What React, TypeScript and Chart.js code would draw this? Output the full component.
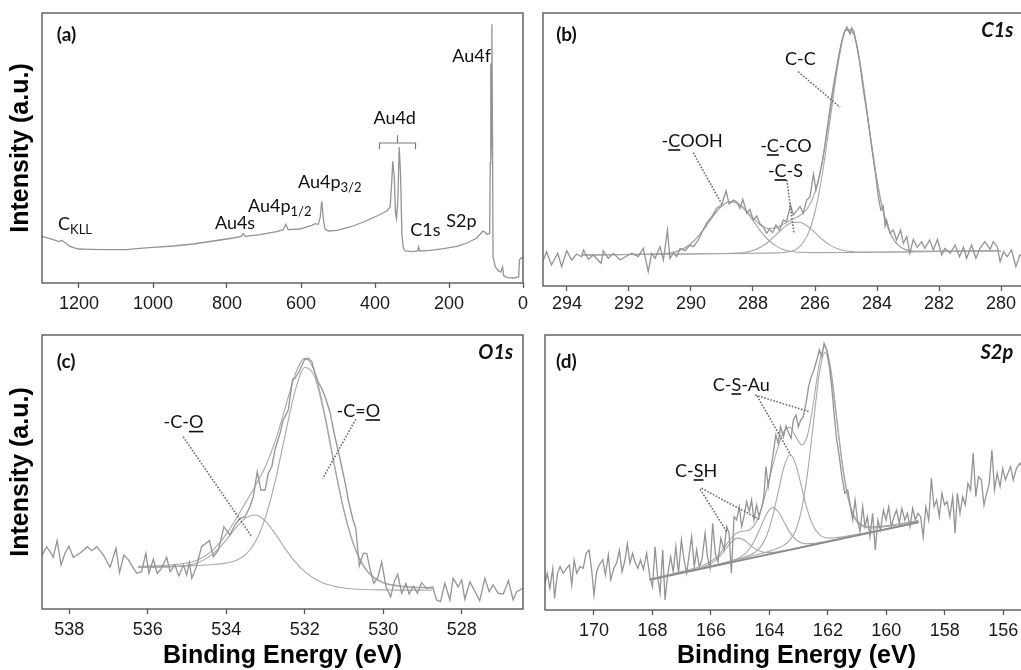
import React, { useEffect, useRef } from "react";
import { Chart, registerables } from "chart.js";

Chart.register(...registerables);

type Pt = [number, number];

// ---------------- Panel (a) survey ----------------
const surveyTicks = [1200, 1000, 800, 600, 400, 200, 0];
const surveyRaw: Pt[] = [
  [1300, 46.7], [1288, 45.4], [1270, 43.4], [1254, 41.4], [1247, 42.7], [1239, 40.7], [1225, 36.7], [1202, 34.0],
  [1171, 33.7], [1126, 33.4], [1072, 33.4], [1036, 34.7], [1000, 35.7], [945, 37.0], [891, 39.0], [837, 42.0],
  [783, 45.0], [761, 46.7], [756, 49.4], [751, 46.7], [711, 48.4], [666, 51.4], [648, 53.4], [641, 58.7],
  [635, 53.4], [603, 54.0], [571, 57.7], [562, 59.4], [553, 58.7], [548, 66], [544, 81.7], [539, 62.7],
  [535, 54], [526, 52], [503, 52.7], [467, 56], [431, 61], [395, 67], [368, 72], [359, 76], [354.5, 102.7],
  [352, 121.7], [348, 106], [344.5, 69.4], [341.8, 64.4], [338.2, 82.7], [334.6, 136], [331, 109.4],
  [327.4, 49.4], [323.8, 35.4], [318.4, 32], [296, 31.4], [285, 32], [282.3, 36], [279.5, 32], [250.7, 32.7],
  [214.6, 34.4], [178.6, 36.7], [151.5, 40], [124.4, 45], [111, 51], [106.4, 52], [97.4, 48.7], [90.1, 49.4],
  [88.5, 120], [87.7, 219.4], [86.5, 120], [85, 150], [84, 258.7], [82.5, 150], [81, 26], [74.8, 16],
  [65.9, 12], [60, 11], [55.1, 16], [52.4, 7.4], [43.2, 5.4], [25.4, 5.0], [11.8, 6.0], [9.3, 23.4],
  [2.8, 25.4], [0, 25],
];

// ---------------- Panel (b) C1s ----------------
const c1sTicks = [294, 292, 290, 288, 286, 284, 282, 280];
const c1sRaw: Pt[] = [
  [294.76, 26], [294.66, 34.3], [294.5, 21], [294.3, 32.7], [294.17, 19.3], [294.01, 35.3], [293.85, 26],
  [293.69, 32], [293.53, 29.3], [293.47, 36], [293.31, 26.7], [293.15, 31], [292.9, 22.7], [292.83, 35.3],
  [292.67, 27.7], [292.5, 32.7], [292.29, 26], [292.07, 30], [291.91, 32.7], [291.7, 29.3], [291.54, 37.7],
  [291.38, 14.3], [291.27, 32.7], [291.16, 27.7], [291.0, 39.3], [290.89, 26], [290.76, 56], [290.68, 27.7],
  [290.57, 32.7], [290.46, 29.3], [290.35, 37.7], [290.19, 35.3], [290.03, 41], [289.92, 39.3], [289.76, 46],
  [289.66, 52.7], [289.49, 63.3], [289.33, 69.3], [289.17, 77.7], [289.01, 81], [288.87, 95.3], [288.77, 82],
  [288.63, 86], [288.53, 84.3], [288.42, 77.7], [288.33, 86.7], [288.2, 72.7], [288.1, 76.7], [287.99, 66],
  [287.88, 70], [287.77, 62], [287.67, 59.3], [287.56, 52.7], [287.47, 56.7], [287.37, 53.3], [287.26, 61],
  [287.15, 56], [287.02, 66], [286.92, 64.3], [286.79, 81], [286.7, 71], [286.59, 75.3], [286.48, 79.3],
  [286.38, 72.7], [286.27, 86], [286.16, 89.3], [286.05, 112], [285.97, 96], [285.87, 108], [285.75, 126],
  [285.65, 148], [285.55, 170], [285.45, 192], [285.35, 210], [285.25, 228], [285.15, 243], [285.05, 254],
  [284.97, 259], [284.92, 255], [284.87, 252], [284.82, 258], [284.75, 255], [284.65, 240], [284.55, 222],
  [284.45, 198], [284.35, 178], [284.25, 157], [284.15, 134], [284.05, 112], [283.97, 92], [283.88, 76],
  [283.8, 80], [283.74, 60], [283.69, 66], [283.58, 52.7], [283.47, 56], [283.37, 46], [283.24, 56],
  [283.15, 42.7], [283.04, 49.3], [282.94, 32.7], [282.83, 46.7], [282.7, 38.7], [282.56, 44.3], [282.46, 37.7],
  [282.3, 46], [282.18, 36], [282.05, 46.7], [281.91, 31], [281.81, 37.7], [281.64, 32.7], [281.48, 41],
  [281.34, 29.3], [281.21, 38.7], [281.11, 27.7], [280.95, 41], [280.81, 27.7], [280.68, 37.7], [280.52, 44.3],
  [280.35, 36.7], [280.25, 44.3], [280.12, 39.3], [280.03, 24.3], [279.92, 34.3], [279.8, 29.3], [279.66, 36],
  [279.52, 19.3], [279.39, 31], [279.25, 28],
];
const c1sEnvelope: Pt[] = [
  [293.5, 31.0], [291.5, 31.7], [291.25, 31.8], [291, 32.1], [290.75, 32.8], [290.5, 34.3], [290.25, 37.2],
  [290, 42.4], [289.75, 50.2], [289.5, 60.4], [289.25, 71.3], [289, 80.2], [288.75, 84.5], [288.5, 83.0],
  [288.25, 76.6], [288, 68.0], [287.75, 60.8], [287.5, 57.4], [287.25, 58.4], [287, 62.3], [286.75, 66.5],
  [286.5, 70.3], [286.25, 77.3], [286, 93.9], [285.75, 127.2], [285.5, 175.8], [285.25, 226.1], [285, 256.9],
  [284.75, 252.3], [284.5, 213.5], [284.25, 157.8], [284, 105.6], [283.75, 68.7], [283.5, 48.2], [283.25, 39.1],
  [283, 35.7], [282.75, 34.7], [282.5, 34.6], [280, 35.3],
];
const c1sCOOH: Pt[] = [
  [293.5, 31.0], [291.5, 31.7], [291.25, 31.8], [291, 32.1], [290.75, 32.8], [290.5, 34.3], [290.25, 37.2],
  [290, 42.4], [289.75, 50.2], [289.5, 60.4], [289.25, 71.3], [289, 80.1], [288.75, 84.4], [288.5, 82.6],
  [288.25, 75.5], [288, 65.3], [287.75, 54.7], [287.5, 46.0], [287.25, 39.9], [287, 36.3], [286.75, 34.5],
  [286.5, 33.7], [286.25, 33.5], [286, 33.4], [280, 35.3],
];
const c1sCCO: Pt[] = [
  [293.5, 31.0], [289, 32.5], [288.75, 32.6], [288.5, 33.0], [288.25, 33.8], [288, 35.5], [287.75, 38.9],
  [287.5, 44.3], [287.25, 51.4], [287, 58.6], [286.75, 63.4], [286.5, 63.8], [286.25, 60.0], [286, 53.3],
  [285.75, 46.2], [285.5, 40.6], [285.25, 36.9], [285, 35.0], [284.75, 34.3], [284.5, 34.0], [284.25, 34.0],
  [280, 35.3],
];
const c1sCC: Pt[] = [
  [293.5, 31.0], [287.5, 32.9], [287.25, 33.1], [287, 33.5], [286.75, 34.9], [286.5, 39.2], [286.25, 50.4],
  [286, 74.0], [285.75, 114.5], [285.5, 168.8], [285.25, 222.8], [285, 255.6], [284.75, 251.8], [284.5, 213.4],
  [284.25, 157.8], [284, 105.6], [283.75, 68.7], [283.5, 48.2], [283.25, 39.1], [283, 35.7], [282.75, 34.7],
  [282.5, 34.6], [280, 35.3],
];

// ---------------- Panel (c) O1s ----------------
const o1sTicks = [538, 536, 534, 532, 530, 528];
const o1sRaw: Pt[] = [
  [538.69, 54], [538.58, 62.3], [538.49, 57.3], [538.41, 51.7], [538.31, 68.3], [538.21, 44], [538.11, 55.7],
  [538.01, 63], [537.9, 51.7], [537.73, 55.7], [537.54, 62.3], [537.43, 58.3], [537.3, 62.3], [537.13, 54],
  [536.96, 41.7], [536.81, 60.7], [536.72, 36.3], [536.61, 54], [536.5, 49.7], [536.39, 42.3], [536.28, 35.7],
  [536.16, 37.3], [536.05, 55.7], [535.97, 35.7], [535.86, 49.7], [535.76, 35.7], [535.65, 40.7], [535.52, 51.7],
  [535.43, 37.3], [535.31, 44], [535.21, 33], [535.09, 44], [535.01, 34], [534.94, 46.3], [534.88, 30.7],
  [534.76, 42.3], [534.63, 62.3], [534.43, 68.3], [534.33, 52.3], [534.2, 59], [534.06, 82.3], [533.91, 74],
  [533.78, 84], [533.65, 90.7], [533.52, 92.3], [533.4, 102.3], [533.31, 112.3], [533.21, 137.3], [533.12, 119],
  [533.01, 119], [532.93, 135.7], [532.84, 142.3], [532.76, 159], [532.63, 175.7], [532.55, 189], [532.42, 199],
  [532.31, 229.7], [532.25, 230.7], [532.17, 235.7], [532.08, 243], [532.0, 249.7], [531.91, 250.7],
  [531.82, 247.3], [531.74, 235.7], [531.66, 227.3], [531.57, 220.7], [531.48, 212.3], [531.36, 197.3],
  [531.23, 172], [531.1, 150], [530.98, 128], [530.89, 109], [530.77, 89], [530.7, 80.7], [530.61, 43],
  [530.51, 55.7], [530.42, 55.7], [530.34, 40.7], [530.24, 25.7], [530.13, 32.3], [530.04, 47.3], [529.93, 22.3],
  [529.81, 12.3], [529.72, 27.3], [529.63, 35], [529.53, 15.7], [529.42, 25.7], [529.34, 15], [529.23, 23],
  [529.13, 15.7], [529.02, 26.3], [528.9, 20.7], [528.74, 22.3], [528.64, 9], [528.54, 7.3], [528.43, 25.7],
  [528.3, 9], [528.22, 30.7], [528.09, 22.3], [528.0, 29], [527.92, 9.7], [527.79, 27.3], [527.66, 17.3],
  [527.54, 8.3], [527.41, 30.7], [527.3, 17.3], [527.2, 24], [527.07, 15.7], [526.94, 15], [526.81, 28.3],
  [526.69, 9], [526.6, 17.3], [526.52, 19], [526.44, 21],
];
const o1sEnvelope: Pt[] = [
  [536.25, 42.7], [536, 42.9], [535.75, 43.3], [535.5, 43.7], [535.25, 44.6], [535, 46.0], [534.75, 48.8],
  [534.5, 54.0], [534.25, 62.6], [534, 74.9], [533.75, 90.3], [533.5, 106.9], [533.25, 123.8], [533, 142.7],
  [532.75, 168.0], [532.5, 200.9], [532.25, 233.8], [532, 250.5], [531.75, 237.2], [531.5, 196.7],
  [531.25, 145.6], [531, 98.8], [530.75, 64.3], [530.5, 43.2], [530.25, 32.0], [530, 26.6], [529.75, 24.1],
  [529.5, 22.8], [529.25, 22.0], [529, 21.6], [528.75, 21.1],
];
const o1sCdO: Pt[] = [
  [536.25, 42.0], [536, 42.1], [535.75, 42.3], [535.5, 42.5], [535.25, 42.8], [535, 43.1], [534.75, 43.5],
  [534.5, 44.0], [534.25, 44.7], [534, 45.9], [533.75, 48.6], [533.5, 54.7], [533.25, 67.8], [533, 91.8],
  [532.75, 128.3], [532.5, 173.9], [532.25, 217.4], [532, 241.5], [531.75, 232.4], [531.5, 194.1],
  [531.25, 143.9], [531, 97.6], [530.75, 63.4], [530.5, 42.4], [530.25, 31.4], [530, 26.0], [529.75, 23.6],
  [529.5, 22.4], [529.25, 21.6], [529, 21.2], [528.75, 20.8],
];
const o1sCO: Pt[] = [
  [536.25, 41.4], [536, 41.5], [535.75, 41.7], [535.5, 41.9], [535.25, 42.5], [535, 43.6], [534.75, 46.0],
  [534.5, 50.6], [534.25, 58.3], [534, 69.1], [533.75, 81.3], [533.5, 91.1], [533.25, 94.0], [533, 87.8],
  [532.75, 75.1], [532.5, 60.4], [532.25, 47.4], [532, 37.3], [531.75, 30.3], [531.5, 25.6], [531.25, 22.8],
  [531, 21.0], [530.75, 20.0], [530.5, 19.5], [530.25, 19.2], [530, 19.1], [529.5, 18.9], [528.75, 18.8],
];

// ---------------- Panel (d) S2p ----------------
const s2pTicks = [170, 168, 166, 164, 162, 160, 158, 156];
const s2pRaw: Pt[] = [
  [171.68, 26.7], [171.6, 36.7], [171.51, 21.7], [171.41, 41.7], [171.35, 11.7], [171.25, 36.7], [171.16, 43.3],
  [171.05, 36.7], [170.94, 41.7], [170.84, 45], [170.76, 25], [170.68, 50], [170.59, 36.7], [170.48, 43.3],
  [170.37, 41.7], [170.27, 56.7], [170.17, 60], [170.08, 40], [170.0, 15], [169.91, 38.3], [169.82, 45],
  [169.7, 50], [169.61, 35], [169.51, 55], [169.43, 30], [169.32, 41.7], [169.23, 46.7], [169.13, 60],
  [169.04, 38.3], [168.94, 50], [168.86, 66], [168.77, 46.7], [168.68, 56.7], [168.6, 48.3], [168.5, 41.7],
  [168.41, 50], [168.31, 40.7], [168.2, 56.7], [168.09, 33.3], [168.0, 23.3], [167.91, 63.3], [167.83, 35],
  [167.74, 16.7], [167.65, 60], [167.57, 10], [167.49, 33.3], [167.38, 53.3], [167.29, 38.3], [167.2, 63.3],
  [167.11, 36.7], [167.01, 70], [166.92, 50], [166.83, 36.7], [166.74, 56.7], [166.66, 73.3], [166.57, 43.3],
  [166.49, 60], [166.4, 43.3], [166.31, 50], [166.2, 76.7], [166.12, 53.3], [166.03, 41.7], [165.94, 86.7],
  [165.85, 56.7], [165.76, 48.3], [165.66, 71.7], [165.55, 60], [165.46, 83.3], [165.38, 76.7], [165.3, 36.7],
  [165.21, 93.3], [165.12, 90], [165.03, 103.3], [164.95, 83.3], [164.87, 93.3], [164.78, 108.3], [164.69, 98.3],
  [164.61, 110], [164.53, 90], [164.44, 105], [164.35, 93.3], [164.26, 103.3], [164.19, 113.3], [164.12, 143.3],
  [164.04, 123.3], [163.96, 138.3], [163.87, 156.7], [163.78, 175], [163.7, 166.7], [163.62, 183.3],
  [163.52, 173.3], [163.43, 184], [163.34, 176.7], [163.26, 171.7], [163.18, 190], [163.09, 195], [163.01, 183.3],
  [162.93, 190], [162.84, 193.3], [162.75, 206.7], [162.66, 223.3], [162.57, 233.3], [162.48, 240], [162.38, 250],
  [162.29, 260], [162.21, 253.3], [162.13, 266.7], [162.04, 260], [161.95, 243.3], [161.87, 223.3],
  [161.79, 196.7], [161.7, 170], [161.61, 153.3], [161.52, 133.3], [161.42, 116.7], [161.32, 120], [161.24, 105],
  [161.15, 90], [161.07, 110], [160.99, 90], [160.9, 78.3], [160.81, 103.3], [160.73, 83.3], [160.65, 93.3],
  [160.56, 73.3], [160.47, 96.7], [160.38, 60], [160.29, 90], [160.2, 80], [160.1, 100], [160.01, 90],
  [159.92, 103.3], [159.83, 83.3], [159.74, 93.3], [159.65, 100], [159.56, 86.7], [159.47, 101.7], [159.37, 90],
  [159.28, 96.7], [159.19, 83.3], [159.1, 101.7], [159.01, 90], [158.92, 96.7], [158.83, 93.3], [158.74, 73.3],
  [158.65, 103.3], [158.55, 90], [158.46, 131.7], [158.37, 103.3], [158.28, 110], [158.19, 93.3], [158.1, 116.7],
  [158.01, 105], [157.92, 108.3], [157.83, 93.3], [157.73, 113.3], [157.65, 76.7], [157.57, 116.7],
  [157.48, 96.7], [157.39, 113.3], [157.3, 105], [157.21, 126.7], [157.12, 120], [157.03, 156.7], [156.94, 113.3],
  [156.85, 133.3], [156.75, 130], [156.66, 105], [156.57, 116.7], [156.48, 126.7], [156.39, 160], [156.3, 120],
  [156.21, 136.7], [156.11, 123.3], [156.02, 141.7], [155.93, 130], [155.84, 136.7], [155.75, 143.3],
  [155.66, 130], [155.55, 141.7], [155.43, 146.7], [155.3, 140],
];
const s2pBaseline: Pt[] = [[168.1, 30.1], [158.9, 87.7]];
const s2pEnvelope: Pt[] = [
  [168.1, 31.0], [167.9, 32.3], [167.7, 33.6], [167.5, 35.0], [167.3, 36.3], [167.1, 37.8], [166.9, 39.2],
  [166.7, 40.7], [166.5, 42.3], [166.3, 44.3], [166.1, 46.9], [165.9, 50.7], [165.7, 56.5], [165.5, 64.2],
  [165.3, 72.0], [165.1, 77.2], [164.9, 78.7], [164.7, 79.8], [164.5, 85.6], [164.3, 99.1], [164.1, 119.8],
  [163.9, 143.0], [163.7, 163.7], [163.5, 178.8], [163.3, 182.7], [163.1, 173.4], [162.9, 165.1], [162.7, 174.5],
  [162.5, 206.0], [162.3, 245.4], [162.1, 263.5], [161.9, 241.3], [161.7, 193.5], [161.5, 145.7], [161.3, 112.2],
  [161.1, 94.0], [160.9, 86.3], [160.7, 83.7], [160.5, 83.1], [160.3, 83.4], [160.1, 83.9], [159.9, 84.6],
  [159.7, 85.5], [159.5, 86.4], [159.3, 87.4], [159.1, 88.4], [158.9, 89.6],
];
const s2pCSAu32: Pt[] = [
  [168.1, 30.4], [167.1, 36.9], [166.1, 43.3], [165.1, 50.2], [164.7, 53.1], [164.3, 56.2], [164.1, 58.0],
  [163.9, 59.8], [163.7, 62.0], [163.5, 64.9], [163.3, 69.9], [163.1, 79.8], [162.9, 100.2], [162.7, 135.9],
  [162.5, 185.6], [162.3, 234.9], [162.1, 257.7], [161.9, 237.4], [161.7, 190.6], [161.5, 143.4], [161.3, 110.2],
  [161.1, 92.4], [160.9, 84.9], [160.7, 82.5], [160.5, 82.0], [160.3, 82.4], [160.1, 83.0], [159.7, 84.7],
  [159.3, 86.7], [159.1, 87.8], [158.9, 89.0],
];
const s2pCSAu12: Pt[] = [
  [168.1, 30.4], [166.1, 43.3], [165.1, 50.6], [164.9, 52.3], [164.7, 54.4], [164.5, 57.5], [164.3, 63.1],
  [164.1, 74.0], [163.9, 92.4], [163.7, 117.9], [163.5, 143.1], [163.3, 155.2], [163.1, 145.6], [162.9, 122.9],
  [162.7, 99.9], [162.5, 84.0], [162.3, 75.6], [162.1, 72.5], [161.9, 71.9], [161.7, 72.4], [161.5, 73.1],
  [161.3, 74.1], [160.7, 77.3], [160.1, 80.8], [159.1, 86.9], [158.9, 88.1],
];
const s2pCSH32: Pt[] = [
  [168.1, 30.3], [166.1, 43.2], [165.7, 46.0], [165.5, 47.4], [165.3, 49.1], [165.1, 51.2], [164.9, 54.6],
  [164.7, 60.5], [164.5, 70.1], [164.3, 83.1], [164.1, 96.0], [163.9, 102.4], [163.7, 98.5], [163.5, 88.1],
  [163.3, 77.6], [163.1, 70.5], [162.9, 67.1], [162.7, 66.3], [162.5, 66.6], [162.3, 67.5], [162.1, 68.5],
  [161.7, 70.8], [161.1, 74.4], [159.1, 86.7], [158.9, 87.9],
];
const s2pCSH12: Pt[] = [
  [168.1, 30.3], [167.1, 36.7], [166.7, 39.4], [166.5, 40.9], [166.3, 42.6], [166.1, 44.9], [165.9, 48.4],
  [165.7, 53.9], [165.5, 61.0], [165.3, 68.0], [165.1, 71.9], [164.9, 70.6], [164.7, 66.0], [164.5, 61.4],
  [164.3, 58.4], [164.1, 57.4], [163.9, 57.6], [163.7, 58.4], [163.5, 59.4], [163.1, 61.8], [162.1, 67.9],
  [159.1, 86.5], [158.9, 87.7],
];

// ---------------- styling ----------------
const FRAME = "#5a5a5a";
const RAW = "#949494";
const FIT = "#a8a8a8";
const LEADER = "#6a6a6a";
const TEXT = "#111111";
const FONTS: Record<string, { main: string; sub: string }> = {
  label: { main: "18px Lato", sub: "13px Lato" },
  panel: { main: "bold 19px Lato", sub: "bold 13px Lato" },
  core: { main: "italic bold 20px Lato", sub: "13px Lato" },
};

type Seg = { t: string; sub?: boolean; u?: boolean };
type Note = { x: number; y: number; parts: Seg[]; align?: "left" | "right" | "center"; style?: string };
type Path = { pts: Pt[]; dotted?: boolean };
type Series = { data: Pt[]; kind: "raw" | "fit" | "base" };

type PanelSpec = {
  key: string;
  left: number; top: number; w: number; h: number;
  pad: { left: number; top: number; right: number; bottom: number };
  xMin: number; xMax: number; yMax: number; xHeight: number; tickPad: number;
  ticks: number[];
  yTitle: boolean; xTitle: boolean;
  series: Series[];
  notes: Note[];
  paths: Path[];
};

const panels: PanelSpec[] = [
  {
    key: "a", left: 0, top: 0, w: 540, h: 320,
    pad: { left: 0, top: 13, right: 17, bottom: 0 },
    xMin: 0, xMax: 1300, yMax: 270, xHeight: 37, tickPad: 5,
    ticks: surveyTicks, yTitle: true, xTitle: false,
    series: [{ data: surveyRaw, kind: "raw" }],
    notes: [
      { x: 1260, y: 242, parts: [{ t: "(a)" }], style: "panel" },
      { x: 1256.7, y: 52.7, parts: [{ t: "C" }, { t: "KLL", sub: true }] },
      { x: 832.6, y: 53.7, parts: [{ t: "Au4s" }] },
      { x: 743.3, y: 71.2, parts: [{ t: "Au4p" }, { t: "1/2", sub: true }] },
      { x: 608, y: 95, parts: [{ t: "Au4p" }, { t: "3/2", sub: true }] },
      { x: 346.8, y: 159.4, parts: [{ t: "Au4d" }], align: "center" },
      { x: 304.9, y: 46.7, parts: [{ t: "C1s" }] },
      { x: 207.4, y: 56, parts: [{ t: "S2p" }] },
      { x: 191.2, y: 221, parts: [{ t: "Au4f" }] },
    ],
    paths: [
      { pts: [[387.9, 133.7], [387.9, 140], [290.5, 140], [290.5, 133.7]] },
      { pts: [[339.2, 140], [339.2, 147.7]] },
    ],
  },
  {
    key: "b", left: 525, top: 0, w: 520, h: 320,
    pad: { left: 18, top: 13, right: 20, bottom: 0 },
    xMin: 279.226, xMax: 294.774, yMax: 273, xHeight: 34, tickPad: 2,
    ticks: c1sTicks, yTitle: false, xTitle: false,
    series: [
      { data: c1sRaw, kind: "raw" },
      { data: c1sCOOH, kind: "fit" },
      { data: c1sCCO, kind: "fit" },
      { data: c1sCC, kind: "fit" },
      { data: c1sEnvelope, kind: "fit" },
    ],
    notes: [
      { x: 294.35, y: 245.3, parts: [{ t: "(b)" }], style: "panel" },
      { x: 279.6, y: 249.3, parts: [{ t: "C1s" }], style: "core", align: "right" },
      { x: 286.97, y: 221, parts: [{ t: "C-C" }] },
      { x: 290.95, y: 139.3, parts: [{ t: "-" }, { t: "C", u: true }, { t: "OOH" }] },
      { x: 287.77, y: 134.3, parts: [{ t: "-" }, { t: "C", u: true }, { t: "-CO" }] },
      { x: 287.52, y: 109.3, parts: [{ t: "-" }, { t: "C", u: true }, { t: "-S" }] },
    ],
    paths: [
      { pts: [[286.54, 214.3], [285.19, 178.7]], dotted: true },
      { pts: [[289.93, 133.3], [289.01, 82]], dotted: true },
      { pts: [[286.91, 106], [286.68, 52.7]], dotted: true },
    ],
  },
  {
    key: "c", left: 0, top: 320, w: 540, h: 352,
    pad: { left: 0, top: 15, right: 17, bottom: 0 },
    xMin: 526.438, xMax: 538.696, yMax: 274, xHeight: 63, tickPad: 5,
    ticks: o1sTicks, yTitle: true, xTitle: true,
    series: [
      { data: o1sRaw, kind: "raw" },
      { data: o1sCO, kind: "fit" },
      { data: o1sCdO, kind: "fit" },
      { data: o1sEnvelope, kind: "fit" },
    ],
    notes: [
      { x: 538.32, y: 241.3, parts: [{ t: "(c)" }], style: "panel" },
      { x: 526.69, y: 249.7, parts: [{ t: "O1s" }], style: "core", align: "right" },
      { x: 535.6, y: 180.7, parts: [{ t: "-C-" }, { t: "O", u: true }] },
      { x: 531.19, y: 192.3, parts: [{ t: "-C=" }, { t: "O", u: true }] },
    ],
    paths: [
      { pts: [[535.1, 172.3], [533.35, 72.3]], dotted: true },
      { pts: [[530.7, 189.7], [531.54, 130.7]], dotted: true },
    ],
  },
  {
    key: "d", left: 525, top: 320, w: 545, h: 352,
    pad: { left: 20, top: 15, right: 22, bottom: 0 },
    xMin: 154.471, xMax: 171.676, yMax: 275, xHeight: 62, tickPad: 5,
    ticks: s2pTicks, yTitle: false, xTitle: true,
    series: [
      { data: s2pRaw, kind: "raw" },
      { data: s2pBaseline, kind: "base" },
      { data: s2pCSH12, kind: "fit" },
      { data: s2pCSH32, kind: "fit" },
      { data: s2pCSAu12, kind: "fit" },
      { data: s2pCSAu32, kind: "fit" },
      { data: s2pEnvelope, kind: "fit" },
    ],
    notes: [
      { x: 171.3, y: 242, parts: [{ t: "(d)" }], style: "panel" },
      { x: 155.66, y: 251, parts: [{ t: "S2p" }], style: "core", align: "right" },
      { x: 165.94, y: 219.3, parts: [{ t: "C-" }, { t: "S", u: true }, { t: "-Au" }] },
      { x: 167.23, y: 133.3, parts: [{ t: "C-" }, { t: "S", u: true }, { t: "H" }] },
    ],
    paths: [
      { pts: [[164.49, 215], [162.64, 198.3]], dotted: true },
      { pts: [[164.42, 214], [163.27, 155]], dotted: true },
      { pts: [[166.32, 121.7], [164.35, 90.7]], dotted: true },
      { pts: [[166.37, 120.7], [165.46, 78.3]], dotted: true },
    ],
  },
];

function drawRich(ctx: CanvasRenderingContext2D, x: number, y: number, parts: Seg[], style: string, align: string) {
  const f = FONTS[style] || FONTS.label;
  const widths = parts.map((p) => {
    ctx.font = p.sub ? f.sub : f.main;
    return ctx.measureText(p.t).width;
  });
  const total = widths.reduce((a, b) => a + b, 0);
  let cx = align === "right" ? x - total : align === "center" ? x - total / 2 : x;
  ctx.textAlign = "left";
  ctx.textBaseline = "alphabetic";
  ctx.fillStyle = TEXT;
  parts.forEach((p, i) => {
    ctx.font = p.sub ? f.sub : f.main;
    ctx.fillText(p.t, cx, p.sub ? y + 4 : y);
    if (p.u) ctx.fillRect(cx, y + 2.5, widths[i], 1.6);
    cx += widths[i];
  });
}

function makeNotesPlugin(spec: PanelSpec) {
  return {
    id: "xpsNotes" + spec.key,
    afterDatasetsDraw(chart: any) {
      const { ctx, chartArea: ca, scales } = chart;
      const xs = scales.x;
      const ys = scales.y;
      ctx.save();
      ctx.strokeStyle = FRAME;
      ctx.lineWidth = 1.4;
      ctx.strokeRect(ca.left, ca.top, ca.right - ca.left, ca.bottom - ca.top);
      for (const p of spec.paths) {
        ctx.beginPath();
        ctx.strokeStyle = p.dotted ? LEADER : "#7a7a7a";
        ctx.lineWidth = p.dotted ? 1.6 : 1.2;
        ctx.setLineDash(p.dotted ? [1.6, 1.6] : []);
        p.pts.forEach(([vx, vy], i) => {
          const px = xs.getPixelForValue(vx);
          const py = ys.getPixelForValue(vy);
          if (i === 0) ctx.moveTo(px, py);
          else ctx.lineTo(px, py);
        });
        ctx.stroke();
      }
      ctx.setLineDash([]);
      for (const n of spec.notes) {
        drawRich(ctx, xs.getPixelForValue(n.x), ys.getPixelForValue(n.y), n.parts, n.style || "label", n.align || "left");
      }
      ctx.restore();
    },
  };
}

function buildConfig(spec: PanelSpec): any {
  const datasets = spec.series.map((s) => ({
    data: s.data.map(([x, y]) => ({ x, y })),
    borderColor: s.kind === "raw" ? RAW : s.kind === "base" ? "#8a8a8a" : FIT,
    borderWidth: s.kind === "raw" ? 1.3 : s.kind === "base" ? 1.8 : 1.1,
    pointRadius: 0,
    showLine: true,
    fill: false,
    tension: 0,
    cubicInterpolationMode: s.kind === "fit" ? "monotone" : "default",
  }));
  return {
    type: "scatter",
    data: { datasets },
    plugins: [makeNotesPlugin(spec)],
    options: {
      responsive: false,
      maintainAspectRatio: false,
      animation: false,
      devicePixelRatio: 1,
      events: [],
      layout: { padding: spec.pad },
      plugins: { legend: { display: false }, tooltip: { enabled: false }, title: { display: false } },
      scales: {
        x: {
          type: "linear",
          reverse: true,
          min: spec.xMin,
          max: spec.xMax,
          afterBuildTicks: (s: any) => {
            s.ticks = spec.ticks.map((v) => ({ value: v }));
          },
          afterFit: (s: any) => {
            s.height = spec.xHeight;
            s.paddingLeft = 0;
            s.paddingRight = 0;
          },
          ticks: {
            autoSkip: false,
            maxRotation: 0,
            padding: spec.tickPad,
            color: "#1a1a1a",
            font: { family: "'Liberation Sans', Arial, sans-serif", size: 18 },
            callback: (v: any) => String(v),
          },
          grid: { display: true, drawOnChartArea: false, drawTicks: true, tickLength: 5, tickColor: FRAME, tickWidth: 1.3 },
          border: { display: false },
          title: {
            display: spec.xTitle,
            text: "Binding Energy (eV)",
            color: "#000",
            font: { family: "'Liberation Sans', Arial, sans-serif", size: 25, weight: "bold", lineHeight: 1 },
            padding: { top: 0, bottom: 3.2 },
          },
        },
        y: {
          type: "linear",
          display: spec.yTitle,
          min: 0,
          max: spec.yMax,
          afterFit: (s: any) => {
            s.width = spec.yTitle ? 42 : 0;
            s.paddingTop = 0;
            s.paddingBottom = 0;
          },
          ticks: { display: false },
          grid: { display: false, drawTicks: false },
          border: { display: false },
          title: {
            display: spec.yTitle,
            text: "Intensity (a.u.)",
            color: "#000",
            font: { family: "'Liberation Sans', Arial, sans-serif", size: 25, weight: "bold", lineHeight: 1 },
            padding: { top: 9, bottom: 0 },
          },
        },
      },
    },
  };
}

function Panel({ spec }: { spec: PanelSpec }) {
  const ref = useRef<HTMLCanvasElement>(null);
  useEffect(() => {
    if (!ref.current) return;
    const chart = new Chart(ref.current, buildConfig(spec));
    return () => chart.destroy();
  }, [spec]);
  return (
    <canvas
      ref={ref}
      width={spec.w}
      height={spec.h}
      style={{ position: "absolute", left: spec.left, top: spec.top, width: spec.w, height: spec.h }}
    />
  );
}

export default function App() {
  return (
    <div
      style={{
        position: "fixed",
        left: 0,
        top: 0,
        width: 1021,
        height: 670,
        overflow: "hidden",
        background: "#ffffff",
      }}
    >
      {panels.map((p) => (
        <Panel key={p.key} spec={p} />
      ))}
    </div>
  );
}
